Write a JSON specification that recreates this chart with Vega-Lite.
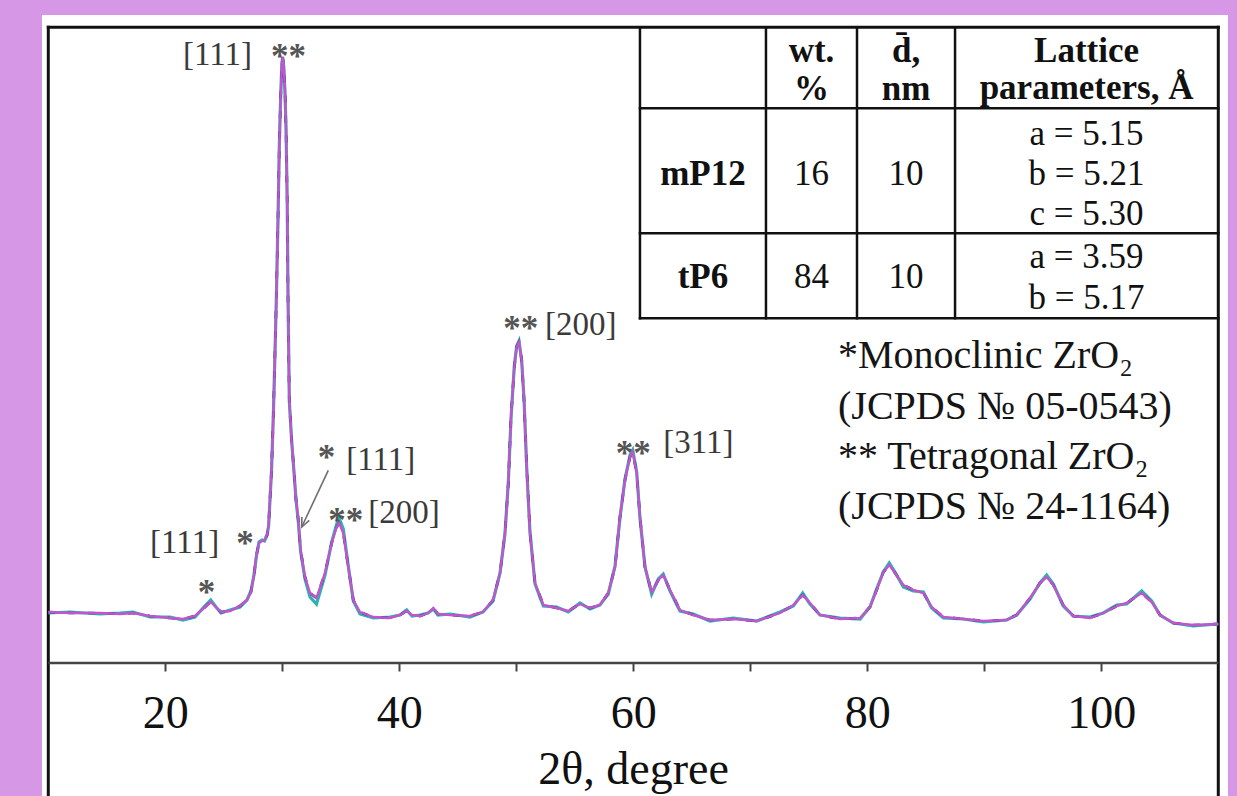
{
  "$schema": "https://vega.github.io/schema/vega-lite/v6.json",
  "width": 1186,
  "height": 648,
  "autosize": {"type": "none"},
  "padding": {"left": 42, "top": 15, "right": 9, "bottom": 133},
  "background": "#d597e6",
  "config": {"view": {"fill": "white", "stroke": null}, "font": "Liberation Serif"},
  "datasets": {
    "xrd": [
      {"t":10.00,"fit":51,"calc":51,"obs":50},{"t":11.85,"fit":50,"calc":50,"obs":51},{"t":14.42,"fit":50,"calc":50,"obs":49},
      {"t":16.13,"fit":49,"calc":49,"obs":50},{"t":17.24,"fit":50,"calc":50,"obs":51},{"t":18.69,"fit":47,"calc":47,"obs":46},
      {"t":20.40,"fit":45,"calc":45,"obs":46},{"t":21.51,"fit":44,"calc":44,"obs":43},{"t":22.54,"fit":47,"calc":47,"obs":46},
      {"t":23.22,"fit":54,"calc":54,"obs":55},{"t":23.88,"fit":61,"calc":61,"obs":63},{"t":24.33,"fit":56,"calc":56,"obs":56},
      {"t":24.76,"fit":51,"calc":51,"obs":50},{"t":25.53,"fit":52,"calc":52,"obs":53},{"t":26.38,"fit":57,"calc":57,"obs":56},
      {"t":26.98,"fit":63,"calc":63,"obs":63},{"t":27.32,"fit":71,"calc":71,"obs":72},{"t":27.58,"fit":88,"calc":88,"obs":88},
      {"t":27.79,"fit":108,"calc":108,"obs":107},{"t":28.01,"fit":120,"calc":120,"obs":121},{"t":28.27,"fit":122,"calc":122,"obs":123},
      {"t":28.48,"fit":123,"calc":123,"obs":122},{"t":28.70,"fit":128,"calc":128,"obs":128},{"t":28.83,"fit":138,"calc":138,"obs":137},
      {"t":29.08,"fit":193,"calc":193,"obs":192},{"t":29.25,"fit":253,"calc":253,"obs":254},{"t":29.38,"fit":313,"calc":313,"obs":312},
      {"t":29.49,"fit":363,"calc":363,"obs":364},{"t":29.63,"fit":443,"calc":443,"obs":442},{"t":29.74,"fit":513,"calc":513,"obs":515},
      {"t":29.85,"fit":563,"calc":563,"obs":562},{"t":29.96,"fit":598,"calc":598,"obs":600},{"t":30.03,"fit":606,"calc":606,"obs":605},
      {"t":30.13,"fit":595,"calc":595,"obs":596},{"t":30.23,"fit":573,"calc":573,"obs":570},{"t":30.32,"fit":533,"calc":533,"obs":535},
      {"t":30.42,"fit":463,"calc":463,"obs":460},{"t":30.49,"fit":363,"calc":363,"obs":366},{"t":30.60,"fit":263,"calc":263,"obs":262},
      {"t":30.79,"fit":223,"calc":223,"obs":224},{"t":30.96,"fit":198,"calc":198,"obs":197},{"t":31.17,"fit":163,"calc":163,"obs":164},
      {"t":31.37,"fit":143,"calc":143,"obs":141},{"t":31.56,"fit":113,"calc":113,"obs":112},{"t":31.94,"fit":86,"calc":86,"obs":84},
      {"t":32.37,"fit":70,"calc":70,"obs":66},{"t":32.92,"fit":65,"calc":65,"obs":59},{"t":33.65,"fit":90,"calc":90,"obs":88},
      {"t":34.22,"fit":120,"calc":120,"obs":121},{"t":34.65,"fit":136,"calc":136,"obs":139},{"t":34.85,"fit":140,"calc":140,"obs":145},
      {"t":35.21,"fit":130,"calc":130,"obs":134},{"t":35.64,"fit":96,"calc":96,"obs":97},{"t":36.07,"fit":63,"calc":63,"obs":62},
      {"t":36.64,"fit":51,"calc":51,"obs":49},{"t":37.78,"fit":46,"calc":46,"obs":45},{"t":39.21,"fit":45,"calc":45,"obs":46},
      {"t":40.06,"fit":48,"calc":48,"obs":48},{"t":40.63,"fit":52,"calc":52,"obs":53},{"t":41.09,"fit":48,"calc":48,"obs":47},
      {"t":41.77,"fit":47,"calc":47,"obs":48},{"t":42.46,"fit":50,"calc":50,"obs":50},{"t":42.91,"fit":55,"calc":55,"obs":54},
      {"t":43.31,"fit":49,"calc":49,"obs":48},{"t":44.33,"fit":48,"calc":48,"obs":49},{"t":46.04,"fit":47,"calc":47,"obs":46},
      {"t":47.15,"fit":51,"calc":51,"obs":51},{"t":48.01,"fit":63,"calc":63,"obs":62},{"t":48.61,"fit":90,"calc":90,"obs":90},
      {"t":49.03,"fit":130,"calc":130,"obs":129},{"t":49.32,"fit":180,"calc":180,"obs":181},{"t":49.55,"fit":246,"calc":246,"obs":245},
      {"t":49.83,"fit":296,"calc":296,"obs":297},{"t":50.03,"fit":316,"calc":316,"obs":317},{"t":50.23,"fit":321,"calc":321,"obs":322},
      {"t":50.46,"fit":303,"calc":303,"obs":302},{"t":50.66,"fit":263,"calc":263,"obs":264},{"t":50.89,"fit":196,"calc":196,"obs":195},
      {"t":51.17,"fit":130,"calc":130,"obs":131},{"t":51.60,"fit":80,"calc":80,"obs":79},{"t":52.31,"fit":58,"calc":58,"obs":57},
      {"t":53.45,"fit":55,"calc":55,"obs":56},{"t":54.44,"fit":52,"calc":52,"obs":51},{"t":55.44,"fit":59,"calc":59,"obs":60},
      {"t":56.30,"fit":55,"calc":55,"obs":54},{"t":57.15,"fit":58,"calc":58,"obs":58},{"t":57.86,"fit":70,"calc":70,"obs":69},
      {"t":58.44,"fit":96,"calc":96,"obs":97},{"t":58.86,"fit":146,"calc":146,"obs":145},{"t":59.29,"fit":183,"calc":183,"obs":184},
      {"t":59.72,"fit":206,"calc":206,"obs":208},{"t":59.95,"fit":211,"calc":211,"obs":213},{"t":60.29,"fit":190,"calc":190,"obs":191},
      {"t":60.57,"fit":146,"calc":146,"obs":145},{"t":61.00,"fit":96,"calc":96,"obs":96},{"t":61.57,"fit":71,"calc":71,"obs":69},
      {"t":62.14,"fit":83,"calc":83,"obs":84},{"t":62.56,"fit":88,"calc":88,"obs":89},{"t":63.14,"fit":73,"calc":73,"obs":72},
      {"t":63.99,"fit":53,"calc":53,"obs":52},{"t":65.13,"fit":48,"calc":48,"obs":49},{"t":66.56,"fit":43,"calc":43,"obs":42},
      {"t":68.55,"fit":44,"calc":44,"obs":45},{"t":70.55,"fit":42,"calc":42,"obs":42},{"t":72.54,"fit":50,"calc":50,"obs":51},
      {"t":73.68,"fit":58,"calc":58,"obs":57},{"t":74.48,"fit":68,"calc":68,"obs":70},{"t":75.10,"fit":60,"calc":60,"obs":59},
      {"t":75.96,"fit":48,"calc":48,"obs":48},{"t":77.67,"fit":44,"calc":44,"obs":45},{"t":79.38,"fit":45,"calc":45,"obs":44},
      {"t":80.23,"fit":56,"calc":56,"obs":56},{"t":80.80,"fit":73,"calc":73,"obs":74},{"t":81.37,"fit":91,"calc":91,"obs":91},
      {"t":81.88,"fit":98,"calc":98,"obs":100},{"t":82.37,"fit":90,"calc":90,"obs":91},{"t":83.08,"fit":78,"calc":78,"obs":76},
      {"t":83.93,"fit":73,"calc":73,"obs":72},{"t":84.79,"fit":70,"calc":70,"obs":71},{"t":85.50,"fit":56,"calc":56,"obs":55},
      {"t":86.50,"fit":46,"calc":46,"obs":45},{"t":88.21,"fit":44,"calc":44,"obs":44},{"t":89.91,"fit":42,"calc":42,"obs":41},
      {"t":91.91,"fit":43,"calc":43,"obs":43},{"t":92.77,"fit":48,"calc":48,"obs":48},{"t":93.91,"fit":65,"calc":65,"obs":64},
      {"t":94.76,"fit":80,"calc":80,"obs":80},{"t":95.33,"fit":86,"calc":86,"obs":88},{"t":95.90,"fit":78,"calc":78,"obs":79},
      {"t":96.75,"fit":58,"calc":58,"obs":57},{"t":97.61,"fit":47,"calc":47,"obs":47},{"t":99.03,"fit":45,"calc":45,"obs":46},
      {"t":100.17,"fit":50,"calc":50,"obs":50},{"t":101.32,"fit":57,"calc":57,"obs":58},{"t":102.17,"fit":60,"calc":60,"obs":59},
      {"t":103.45,"fit":70,"calc":70,"obs":72},{"t":104.31,"fit":61,"calc":61,"obs":62},{"t":105.02,"fit":48,"calc":48,"obs":48},
      {"t":106.15,"fit":40,"calc":40,"obs":40},{"t":107.86,"fit":38,"calc":38,"obs":37},{"t":110.00,"fit":39,"calc":39,"obs":39}
    ],
    "panel": [{"t":9.4615,"v":-133,"t2":110.83,"v2":0}],
    "frame": [
      {"t":10,"v":-134,"t2":10,"v2":635.7},
      {"t":110,"v":-134,"t2":110,"v2":635.7},
      {"t":10,"v":635.7,"t2":110,"v2":635.7}
    ],
    "table": [
      {"t":60.57,"v":344.7,"t2":60.57,"v2":635.7},
      {"t":71.34,"v":344.7,"t2":71.34,"v2":635.7},
      {"t":79.12,"v":344.7,"t2":79.12,"v2":635.7},
      {"t":87.50,"v":344.7,"t2":87.50,"v2":635.7},
      {"t":60.57,"v":554.7,"t2":110,"v2":554.7},
      {"t":60.57,"v":429.7,"t2":110,"v2":429.7},
      {"t":60.57,"v":344.7,"t2":110,"v2":344.7}
    ],
    "axisline": [{"t":10,"v":0,"t2":110,"v2":0}],
    "arrow": [{"t":33.93,"v":192.7,"t2":31.66,"v2":136}],
    "arrowhead": [{"t":31.66,"v":136}],
    "brackets": [
      {"t":21.51,"v":597.7,"label":"[111]"},
      {"t":18.70,"v":109.7,"label":"[111]"},
      {"t":35.47,"v":192.7,"label":"[111]"},
      {"t":37.35,"v":139.7,"label":"[200]"},
      {"t":52.45,"v":327.7,"label":"[200]"},
      {"t":62.56,"v":209.7,"label":"[311]"}
    ],
    "stars": [
      {"t":30.53,"v":595.2,"label":"**"},
      {"t":26.81,"v":107.7,"label":"*"},
      {"t":23.52,"v":58.7,"label":"*"},
      {"t":33.78,"v":193.7,"label":"*"},
      {"t":35.43,"v":131.2,"label":"**"},
      {"t":50.38,"v":322.9,"label":"**"},
      {"t":60.00,"v":197.9,"label":"**"}
    ],
    "legend": [
      {"t":77.50,"v":295.2,"label":"*Monoclinic ZrO₂"},
      {"t":77.50,"v":243.7,"label":"(JCPDS № 05-0543)"},
      {"t":77.50,"v":193.7,"label":"** Tetragonal ZrO₂"},
      {"t":77.50,"v":144.2,"label":"(JCPDS № 24-1164)"}
    ],
    "thead": [
      {"t":75.23,"v":600.7,"label":"wt."},
      {"t":75.23,"v":562.7,"label":"%"},
      {"t":83.31,"v":600.7,"label":"d̄,"},
      {"t":83.31,"v":562.7,"label":"nm"},
      {"t":98.74,"v":600.7,"label":"Lattice"},
      {"t":98.74,"v":563.7,"label":"parameters, Å"},
      {"t":65.95,"v":477.7,"label":"mP12"},
      {"t":65.95,"v":374.7,"label":"tP6"}
    ],
    "tbody": [
      {"t":75.23,"v":477.7,"label":"16"},
      {"t":83.31,"v":477.7,"label":"10"},
      {"t":75.23,"v":374.7,"label":"84"},
      {"t":83.31,"v":374.7,"label":"10"},
      {"t":98.74,"v":517.7,"label":"a = 5.15"},
      {"t":98.74,"v":477.7,"label":"b = 5.21"},
      {"t":98.74,"v":437.7,"label":"c = 5.30"},
      {"t":98.74,"v":394.7,"label":"a = 3.59"},
      {"t":98.74,"v":353.7,"label":"b = 5.17"}
    ]
  },
  "encoding": {
    "x": {
      "field": "t", "type": "quantitative",
      "scale": {"domain": [9.4615, 110.83], "nice": false, "zero": false},
      "axis": {
        "values": [20, 30, 40, 50, 60, 70, 80, 90, 100],
        "domain": false, "grid": false, "zindex": 1,
        "ticks": true, "tickSize": 8, "tickWidth": 2, "tickColor": "#444444",
        "labelExpr": "datum.value % 20 === 0 ? datum.label : ''",
        "labelFont": "Liberation Serif", "labelFontSize": 46, "labelColor": "#111111",
        "labelBaseline": "alphabetic", "labelPadding": 56.3,
        "labelFlush": false, "labelOverlap": false,
        "title": "2θ, degree", "titleFont": "Liberation Serif", "titleFontSize": 46,
        "titleFontWeight": "normal", "titleColor": "#111111",
        "titleBaseline": "alphabetic", "titleAlign": "center", "titleX": 591, "titleY": 120.3
      }
    },
    "y": {"field": "v", "type": "quantitative", "scale": {"domain": [0, 648], "nice": false, "zero": false}, "axis": null}
  },
  "layer": [
    {
      "data": {"name": "panel"},
      "mark": {"type": "rect", "color": "white", "opacity": 1},
      "encoding": {"x2": {"field": "t2"}, "y2": {"field": "v2"}}
    },
    {
      "data": {"name": "frame"},
      "mark": {"type": "rule", "color": "#111111", "strokeWidth": 3, "strokeCap": "square"},
      "encoding": {"x2": {"field": "t2"}, "y2": {"field": "v2"}}
    },
    {
      "data": {"name": "table"},
      "mark": {"type": "rule", "color": "#111111", "strokeWidth": 2.5, "strokeCap": "square"},
      "encoding": {"x2": {"field": "t2"}, "y2": {"field": "v2"}}
    },
    {
      "data": {"name": "axisline"},
      "mark": {"type": "rule", "color": "#444444", "strokeWidth": 2.5},
      "encoding": {"x2": {"field": "t2"}, "y2": {"field": "v2"}}
    },
    {
      "data": {"name": "xrd"},
      "mark": {"type": "line", "color": "#2bb3b3", "strokeWidth": 3.2},
      "encoding": {"y": {"field": "obs", "type": "quantitative"}}
    },
    {
      "data": {"name": "xrd"},
      "mark": {"type": "line", "color": "#283593", "strokeWidth": 2.7, "strokeDash": [7, 13]},
      "encoding": {"y": {"field": "calc", "type": "quantitative"}}
    },
    {
      "data": {"name": "xrd"},
      "mark": {"type": "line", "color": "#c453cc", "strokeWidth": 2.4},
      "encoding": {"y": {"field": "fit", "type": "quantitative"}}
    },
    {
      "data": {"name": "arrow"},
      "mark": {"type": "rule", "color": "#6e6e6e", "strokeWidth": 1.6},
      "encoding": {"x2": {"field": "t2"}, "y2": {"field": "v2"}}
    },
    {
      "data": {"name": "arrowhead"},
      "mark": {"type": "point", "shape": "M -0.45 -1 L 0 0 L 0.45 -1", "filled": false, "size": 333, "angle": 25, "color": "#6e6e6e", "strokeWidth": 1.6, "opacity": 1}
    },
    {
      "data": {"name": "brackets"},
      "mark": {"type": "text", "font": "Liberation Serif", "fontSize": 33, "align": "left", "baseline": "alphabetic", "color": "#3a3a3a"},
      "encoding": {"text": {"field": "label"}}
    },
    {
      "data": {"name": "stars"},
      "mark": {"type": "text", "font": "Liberation Serif", "fontSize": 35, "fontWeight": "bold", "align": "center", "baseline": "alphabetic", "color": "#555555"},
      "encoding": {"text": {"field": "label"}}
    },
    {
      "data": {"name": "legend"},
      "mark": {"type": "text", "font": "Liberation Serif", "fontSize": 40, "align": "left", "baseline": "alphabetic", "color": "#151515"},
      "encoding": {"text": {"field": "label"}}
    },
    {
      "data": {"name": "thead"},
      "mark": {"type": "text", "font": "Liberation Serif", "fontSize": 35, "fontWeight": "bold", "align": "center", "baseline": "alphabetic", "color": "#111111"},
      "encoding": {"text": {"field": "label"}}
    },
    {
      "data": {"name": "tbody"},
      "mark": {"type": "text", "font": "Liberation Serif", "fontSize": 35, "align": "center", "baseline": "alphabetic", "color": "#111111"},
      "encoding": {"text": {"field": "label"}}
    }
  ]
}
